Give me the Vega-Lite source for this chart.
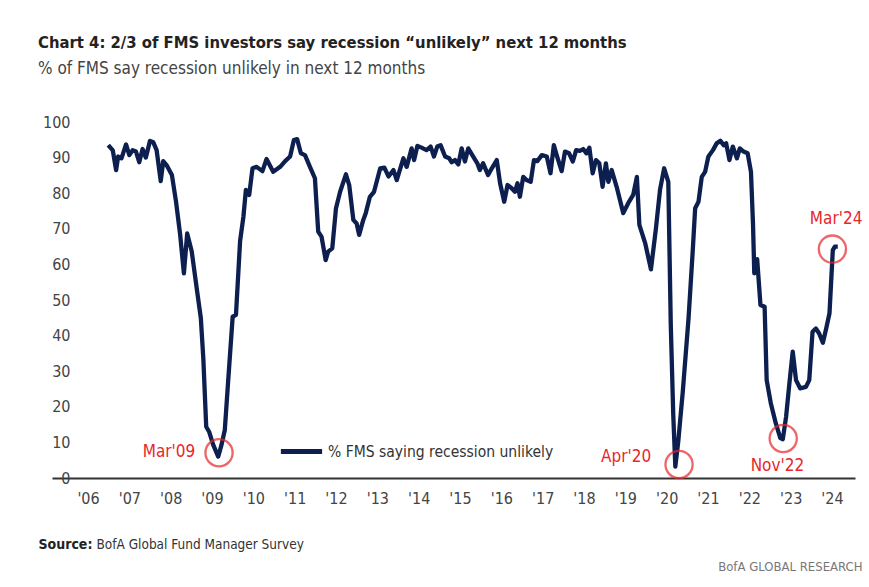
{
  "$schema": "https://vega.github.io/schema/vega-lite/v6.json",
  "width": 803,
  "height": 356,
  "autosize": {"type": "none"},
  "padding": {"left": 52, "top": 122, "right": 14, "bottom": 109},
  "background": "white",
  "config": {"view": {"stroke": null}, "font": "DejaVu Sans Condensed, Liberation Sans Narrow, sans-serif"},
  "title": {
    "text": "Chart 4: 2/3 of FMS investors say recession \u201cunlikely\u201d next 12 months",
    "subtitle": "% of FMS say recession unlikely in next 12 months",
    "anchor": "start",
    "frame": "group",
    "font": "DejaVu Sans Condensed, Liberation Sans Narrow, sans-serif",
    "fontSize": 16.5,
    "fontWeight": "bold",
    "color": "#222222",
    "subtitleFont": "DejaVu Sans Condensed, Liberation Sans Narrow, sans-serif",
    "subtitleFontSize": 17,
    "subtitleColor": "#444444",
    "subtitlePadding": 10,
    "dx": -14,
    "offset": 37
  },
  "datasets": {
    "fms": [
      {"year": 2006.49, "pct": 93.5}, {"year": 2006.60, "pct": 92.0}, {"year": 2006.68, "pct": 86.5}, {"year": 2006.73, "pct": 90.3},
      {"year": 2006.81, "pct": 89.8}, {"year": 2006.92, "pct": 93.7}, {"year": 2007.00, "pct": 90.7}, {"year": 2007.08, "pct": 92.1},
      {"year": 2007.16, "pct": 91.7}, {"year": 2007.24, "pct": 88.7}, {"year": 2007.32, "pct": 92.4}, {"year": 2007.40, "pct": 90.0},
      {"year": 2007.50, "pct": 94.7}, {"year": 2007.58, "pct": 94.3}, {"year": 2007.66, "pct": 92.1}, {"year": 2007.76, "pct": 83.4},
      {"year": 2007.82, "pct": 89.0}, {"year": 2007.90, "pct": 87.9}, {"year": 2008.03, "pct": 85.1}, {"year": 2008.13, "pct": 77.6},
      {"year": 2008.23, "pct": 68.3}, {"year": 2008.32, "pct": 57.5}, {"year": 2008.40, "pct": 68.7}, {"year": 2008.51, "pct": 63.6},
      {"year": 2008.63, "pct": 53.3}, {"year": 2008.73, "pct": 44.9}, {"year": 2008.79, "pct": 33.6}, {"year": 2008.86, "pct": 14.4},
      {"year": 2008.93, "pct": 13.0}, {"year": 2009.03, "pct": 9.3}, {"year": 2009.15, "pct": 6.0}, {"year": 2009.23, "pct": 9.3},
      {"year": 2009.31, "pct": 13.5}, {"year": 2009.39, "pct": 27.1}, {"year": 2009.50, "pct": 45.3}, {"year": 2009.58, "pct": 45.8},
      {"year": 2009.68, "pct": 66.6}, {"year": 2009.76, "pct": 73.4}, {"year": 2009.82, "pct": 80.9}, {"year": 2009.90, "pct": 79.5},
      {"year": 2009.98, "pct": 87.0}, {"year": 2010.08, "pct": 87.4}, {"year": 2010.22, "pct": 86.2}, {"year": 2010.32, "pct": 89.6},
      {"year": 2010.48, "pct": 86.0}, {"year": 2010.65, "pct": 87.4}, {"year": 2010.77, "pct": 89.0}, {"year": 2010.89, "pct": 90.3},
      {"year": 2010.98, "pct": 94.9}, {"year": 2011.06, "pct": 95.2}, {"year": 2011.15, "pct": 91.2}, {"year": 2011.25, "pct": 90.7},
      {"year": 2011.37, "pct": 87.4}, {"year": 2011.49, "pct": 84.2}, {"year": 2011.57, "pct": 69.2}, {"year": 2011.65, "pct": 67.8},
      {"year": 2011.75, "pct": 61.2}, {"year": 2011.81, "pct": 63.6}, {"year": 2011.91, "pct": 64.5}, {"year": 2012.00, "pct": 75.8},
      {"year": 2012.10, "pct": 80.4}, {"year": 2012.24, "pct": 85.3}, {"year": 2012.32, "pct": 82.3}, {"year": 2012.42, "pct": 72.5},
      {"year": 2012.50, "pct": 71.5}, {"year": 2012.56, "pct": 68.3}, {"year": 2012.66, "pct": 72.5}, {"year": 2012.72, "pct": 74.4},
      {"year": 2012.82, "pct": 79.0}, {"year": 2012.92, "pct": 80.4}, {"year": 2013.07, "pct": 87.0}, {"year": 2013.17, "pct": 87.2},
      {"year": 2013.27, "pct": 84.7}, {"year": 2013.39, "pct": 86.5}, {"year": 2013.47, "pct": 83.7}, {"year": 2013.63, "pct": 89.8},
      {"year": 2013.71, "pct": 87.4}, {"year": 2013.83, "pct": 92.6}, {"year": 2013.89, "pct": 89.3}, {"year": 2013.97, "pct": 93.3},
      {"year": 2014.07, "pct": 92.8}, {"year": 2014.19, "pct": 92.1}, {"year": 2014.29, "pct": 93.1}, {"year": 2014.37, "pct": 90.3},
      {"year": 2014.45, "pct": 93.1}, {"year": 2014.53, "pct": 93.5}, {"year": 2014.64, "pct": 90.3}, {"year": 2014.74, "pct": 89.8},
      {"year": 2014.80, "pct": 88.7}, {"year": 2014.88, "pct": 89.3}, {"year": 2014.96, "pct": 88.1}, {"year": 2015.04, "pct": 92.6},
      {"year": 2015.12, "pct": 88.9}, {"year": 2015.20, "pct": 92.6}, {"year": 2015.32, "pct": 90.3}, {"year": 2015.42, "pct": 88.4},
      {"year": 2015.48, "pct": 86.5}, {"year": 2015.56, "pct": 88.4}, {"year": 2015.68, "pct": 85.1}, {"year": 2015.77, "pct": 87.0},
      {"year": 2015.89, "pct": 89.3}, {"year": 2015.97, "pct": 82.8}, {"year": 2016.07, "pct": 77.6}, {"year": 2016.15, "pct": 82.3},
      {"year": 2016.25, "pct": 81.4}, {"year": 2016.33, "pct": 80.4}, {"year": 2016.39, "pct": 82.8}, {"year": 2016.45, "pct": 79.0},
      {"year": 2016.53, "pct": 84.6}, {"year": 2016.61, "pct": 83.7}, {"year": 2016.71, "pct": 83.2}, {"year": 2016.79, "pct": 89.3},
      {"year": 2016.87, "pct": 89.0}, {"year": 2016.98, "pct": 90.7}, {"year": 2017.10, "pct": 90.3}, {"year": 2017.19, "pct": 85.6},
      {"year": 2017.27, "pct": 93.5}, {"year": 2017.35, "pct": 90.3}, {"year": 2017.46, "pct": 86.2}, {"year": 2017.54, "pct": 91.7},
      {"year": 2017.64, "pct": 91.2}, {"year": 2017.73, "pct": 88.9}, {"year": 2017.81, "pct": 92.1}, {"year": 2017.90, "pct": 91.9},
      {"year": 2017.98, "pct": 92.4}, {"year": 2018.06, "pct": 91.2}, {"year": 2018.13, "pct": 92.8}, {"year": 2018.21, "pct": 85.6},
      {"year": 2018.29, "pct": 89.3}, {"year": 2018.37, "pct": 88.4}, {"year": 2018.45, "pct": 81.8}, {"year": 2018.53, "pct": 88.4},
      {"year": 2018.59, "pct": 83.2}, {"year": 2018.67, "pct": 86.5}, {"year": 2018.79, "pct": 81.8}, {"year": 2018.95, "pct": 74.4},
      {"year": 2019.07, "pct": 77.2}, {"year": 2019.19, "pct": 79.5}, {"year": 2019.28, "pct": 84.6}, {"year": 2019.34, "pct": 71.1},
      {"year": 2019.48, "pct": 66.0}, {"year": 2019.62, "pct": 58.6}, {"year": 2019.74, "pct": 70.0}, {"year": 2019.84, "pct": 81.0},
      {"year": 2019.94, "pct": 87.0}, {"year": 2020.04, "pct": 83.2}, {"year": 2020.10, "pct": 43.0}, {"year": 2020.16, "pct": 17.7},
      {"year": 2020.21, "pct": 3.2}, {"year": 2020.28, "pct": 10.2}, {"year": 2020.39, "pct": 24.2}, {"year": 2020.53, "pct": 44.9},
      {"year": 2020.63, "pct": 63.6}, {"year": 2020.69, "pct": 75.8}, {"year": 2020.77, "pct": 77.6}, {"year": 2020.85, "pct": 84.6},
      {"year": 2020.93, "pct": 86.0}, {"year": 2021.01, "pct": 90.3}, {"year": 2021.12, "pct": 92.1}, {"year": 2021.21, "pct": 94.0},
      {"year": 2021.30, "pct": 94.7}, {"year": 2021.38, "pct": 93.5}, {"year": 2021.44, "pct": 94.0}, {"year": 2021.52, "pct": 89.3},
      {"year": 2021.60, "pct": 93.1}, {"year": 2021.70, "pct": 89.8}, {"year": 2021.77, "pct": 92.6}, {"year": 2021.86, "pct": 91.7},
      {"year": 2021.96, "pct": 91.2}, {"year": 2022.04, "pct": 86.0}, {"year": 2022.09, "pct": 71.1}, {"year": 2022.12, "pct": 57.5},
      {"year": 2022.19, "pct": 61.5}, {"year": 2022.27, "pct": 48.6}, {"year": 2022.37, "pct": 48.1}, {"year": 2022.42, "pct": 27.5},
      {"year": 2022.52, "pct": 21.0}, {"year": 2022.64, "pct": 15.4}, {"year": 2022.75, "pct": 11.2}, {"year": 2022.81, "pct": 10.9},
      {"year": 2022.89, "pct": 17.2}, {"year": 2022.97, "pct": 26.6}, {"year": 2023.05, "pct": 35.5}, {"year": 2023.13, "pct": 27.5},
      {"year": 2023.23, "pct": 25.2}, {"year": 2023.37, "pct": 25.6}, {"year": 2023.45, "pct": 27.5}, {"year": 2023.53, "pct": 41.1},
      {"year": 2023.61, "pct": 42.0}, {"year": 2023.69, "pct": 40.6}, {"year": 2023.78, "pct": 38.0}, {"year": 2023.86, "pct": 42.0},
      {"year": 2023.94, "pct": 46.3}, {"year": 2024.02, "pct": 64.0}, {"year": 2024.07, "pct": 65.0}, {"year": 2024.14, "pct": 65.0}
    ],
    "notes": [
      {"label": "Mar'09", "cx": 2009.17, "cy": 7.1, "lx": 2007.96, "ly": 7.2},
      {"label": "Apr'20", "cx": 2020.30, "cy": 3.8, "lx": 2019.02, "ly": 6.0},
      {"label": "Nov'22", "cx": 2022.82, "cy": 11.1, "lx": 2022.68, "ly": 3.4},
      {"label": "Mar'24", "cx": 2024.01, "cy": 64.3, "lx": 2024.10, "ly": 72.8}
    ]
  },
  "resolve": {"axis": {"x": "independent", "y": "independent"}},
  "layer": [
    {
      "data": {"name": "fms"},
      "mark": {"type": "line", "strokeWidth": 4.3, "strokeJoin": "round", "strokeCap": "butt"},
      "encoding": {
        "x": {
          "field": "year", "type": "quantitative",
          "scale": {"domain": [2005.129, 2024.557], "nice": false, "zero": false},
          "axis": {
            "values": [2006, 2007, 2008, 2009, 2010, 2011, 2012, 2013, 2014, 2015, 2016, 2017, 2018, 2019, 2020, 2021, 2022, 2023, 2024],
            "labelExpr": "\"'\" + slice(toString(datum.value), 2)",
            "grid": false, "ticks": false, "domain": true, "domainColor": "#333333", "domainWidth": 2,
            "labelFontSize": 16, "labelColor": "#444444", "labelPadding": 12, "labelFlush": false, "labelOverlap": false,
            "title": "Source:", "titleFontWeight": "bold", "titleFontSize": 14, "titleColor": "#222222",
            "titleX": -14, "titleY": 70, "titleAlign": "left", "titleBaseline": "alphabetic", "titleAnchor": "start"
          }
        },
        "y": {
          "field": "pct", "type": "quantitative",
          "scale": {"domain": [0, 100], "nice": false},
          "axis": {
            "values": [0, 10, 20, 30, 40, 50, 60, 70, 80, 90, 100],
            "grid": false, "ticks": false, "domain": false, "offset": -22, "labelPadding": 4,
            "labelFontSize": 16, "labelColor": "#444444", "title": null
          }
        },
        "color": {
          "datum": "% FMS saying recession unlikely",
          "type": "nominal",
          "scale": {"range": ["#0C1F4E"]},
          "legend": {
            "title": null, "orient": "none", "legendX": 226, "legendY": 306, "padding": 0,
            "symbolType": "stroke", "symbolSize": 1700, "symbolStrokeWidth": 5,
            "labelFontSize": 15.5, "labelColor": "#333333", "labelOffset": 3, "labelLimit": 400
          }
        }
      }
    },
    {
      "data": {"name": "notes"},
      "mark": {"type": "point", "shape": "circle", "filled": false, "stroke": "#E8262B", "strokeWidth": 2.3, "size": 740},
      "encoding": {
        "x": {
          "field": "cx", "type": "quantitative",
          "axis": {
            "orient": "top", "labels": false, "ticks": false, "domain": false, "grid": false,
            "title": "BofA Global Fund Manager Survey", "titleFontWeight": "normal", "titleFontSize": 13.5, "titleColor": "#333333",
            "titleX": 44, "titleY": 426, "titleAlign": "left", "titleBaseline": "alphabetic", "titleAnchor": "start"
          }
        },
        "y": {
          "field": "cy", "type": "quantitative",
          "axis": {
            "orient": "right", "labels": false, "ticks": false, "domain": false, "grid": false,
            "title": "BofA GLOBAL RESEARCH", "titleAngle": 0, "titleFontWeight": "normal", "titleFontSize": 13, "titleColor": "#777777",
            "titleX": 7, "titleY": 448, "titleAlign": "right", "titleBaseline": "alphabetic"
          }
        }
      }
    },
    {
      "data": {"name": "notes"},
      "mark": {"type": "text", "color": "#E8262B", "fontSize": 17, "align": "center", "baseline": "middle"},
      "encoding": {
        "x": {"field": "lx", "type": "quantitative", "axis": null},
        "y": {"field": "ly", "type": "quantitative", "axis": null},
        "text": {"field": "label"}
      }
    }
  ]
}
